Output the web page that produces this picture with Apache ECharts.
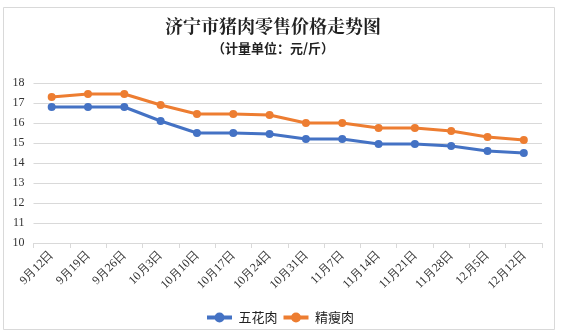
<!DOCTYPE html>
<html><head><meta charset="utf-8">
<script src="https://cdn.jsdelivr.net/npm/echarts@6/dist/echarts.min.js"></script>
<style>html,body{margin:0;padding:0;background:#fff}#c{width:561px;height:333px}</style>
</head><body><div id="c"></div>
<script>
const categories = ['9月12日','9月19日','9月26日','10月3日','10月10日','10月17日','10月24日','10月31日','11月7日','11月14日','11月21日','11月28日','12月5日','12月12日'];
const wuhua = [16.8,16.8,16.8,16.1,15.5,15.5,15.45,15.2,15.2,14.95,14.95,14.85,14.6,14.5];
const jingshou = [17.3,17.45,17.45,16.9,16.45,16.45,16.4,16.0,16.0,15.75,15.75,15.6,15.3,15.15];
const seriesNames = ['五花肉','精瘦肉'];
const titleText = '济宁市猪肉零售价格走势图';
const subText = '（计量单位：元/斤）';

const chart = echarts.init(document.getElementById('c'));
const legendIcon = 'path://M0,3.2L3.5,3.2L3.5,4.8L0,4.8Z M6.5,3.2L10,3.2L10,4.8L6.5,4.8Z M3,4A2,2 0 1,1 7,4A2,2 0 1,1 3,4Z';
chart.setOption({
  animation:false,
  backgroundColor:'#fff',
  graphic:[{type:'rect',shape:{x:3.5,y:7.5,width:551,height:322},style:{fill:'none',stroke:'#d9d9d9',lineWidth:1},silent:true}],
  title:{text:titleText,subtext:subText,left:268,textAlign:'center',top:14,itemGap:5,
    textStyle:{fontFamily:'Liberation Serif, Noto Serif CJK SC, serif',fontSize:18,fontWeight:'bold',color:'#222'},
    subtextStyle:{fontFamily:'Noto Sans CJK SC',fontSize:13,fontWeight:'bold',color:'#222'}},
  legend:{bottom:4,left:'center',itemWidth:28,itemHeight:10,itemGap:6,
    textStyle:{fontFamily:'Noto Sans CJK SC',fontSize:13,color:'#222'},
    data:seriesNames.map(n=>({name:n,icon:legendIcon}))},
  grid:{left:33.5,right:19,top:83,bottom:90,containLabel:false},
  xAxis:{type:'category',data:categories,boundaryGap:true,
    axisLine:{lineStyle:{color:'#d9d9d9'}},
    axisTick:{show:true,length:5,lineStyle:{color:'#d9d9d9'}},
    axisLabel:{rotate:45,fontFamily:'Liberation Serif, serif',fontSize:12,color:'#333',margin:10,interval:0}},
  yAxis:{type:'value',min:10,max:18,interval:1,
    axisLine:{show:false},axisTick:{show:false},
    splitLine:{lineStyle:{color:'#d9d9d9'}},
    axisLabel:{fontFamily:'Liberation Serif, serif',fontSize:12,color:'#333',margin:9}},
  series:[
    {name:seriesNames[0],type:'line',data:wuhua,color:'#4472C4',symbol:'circle',symbolSize:8,lineStyle:{width:3}},
    {name:seriesNames[1],type:'line',data:jingshou,color:'#ED7D31',symbol:'circle',symbolSize:8,lineStyle:{width:3}}
  ]
});
</script></body></html>
